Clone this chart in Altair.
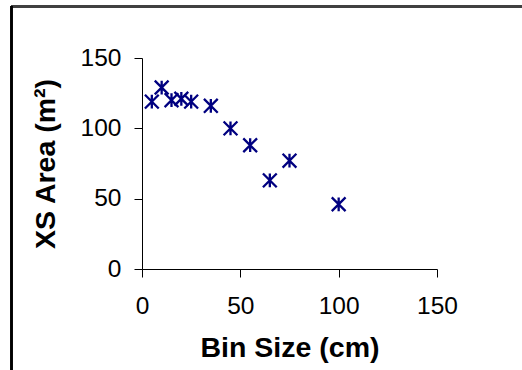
import altair as alt
import pandas as pd

bin_size = [5, 10, 15, 20, 25, 35, 45, 55, 65, 75, 100]
xs_area = [119, 129, 120, 121, 119, 116, 100, 88, 63, 77, 46]
ticks = [0, 50, 100, 150]

df = pd.DataFrame({"bin": bin_size, "area": xs_area})

STAR = "M-1,-1L1,1M-1,1L1,-1M0,-1L0,1"
FONT = "Liberation Sans"

points = alt.Chart(df).mark_point(
    shape=STAR, filled=False, stroke="#000080", strokeWidth=2.3, size=190, opacity=1
).encode(
    x=alt.X("bin:Q", scale=alt.Scale(domain=[0, 150], nice=False),
            axis=alt.Axis(values=ticks, title="Bin Size (cm)", grid=False,
                          domainColor="black", tickColor="black", tickSize=8,
                          labelFont=FONT, labelFontSize=24.5, labelColor="black",
                          labelPadding=17, labelFlush=False,
                          titleFont=FONT, titleFontSize=28.5, titleFontWeight="bold",
                          titleColor="black", titleX=147.5, titleY=87,
                          titleBaseline="alphabetic", titleAlign="center")),
    y=alt.Y("area:Q", scale=alt.Scale(domain=[0, 150], nice=False),
            axis=alt.Axis(values=ticks, title="XS Area (m²)", grid=False,
                          domainColor="black", tickColor="black", tickSize=8,
                          labelFont=FONT, labelFontSize=24.5, labelColor="black",
                          labelPadding=13, labelFlush=False,
                          titleFont=FONT, titleFontSize=28.5, titleFontWeight="bold",
                          titleColor="black", titleX=-88, titleY=105.5,
                          titleAngle=-90, titleBaseline="alphabetic",
                          titleAlign="center")),
)

top_line = alt.Chart(df).mark_rule(color="#404040", strokeWidth=2).encode(
    x=alt.value(-131), x2=alt.value(380), y=alt.value(-51.5)
)
left_line = alt.Chart(df).mark_rule(color="black", strokeWidth=1.5).encode(
    x=alt.value(-130.5), y=alt.value(-52), y2=alt.value(312)
)

chart = alt.layer(top_line, left_line, points).properties(
    width=295, height=211,
    autosize=alt.AutoSizeParams(type="none"),
    padding={"left": 142, "top": 58, "right": 85, "bottom": 101},
    background="white",
).configure_view(stroke=None)

chart.save("out.html", embed_options={"renderer": "svg", "actions": False})
